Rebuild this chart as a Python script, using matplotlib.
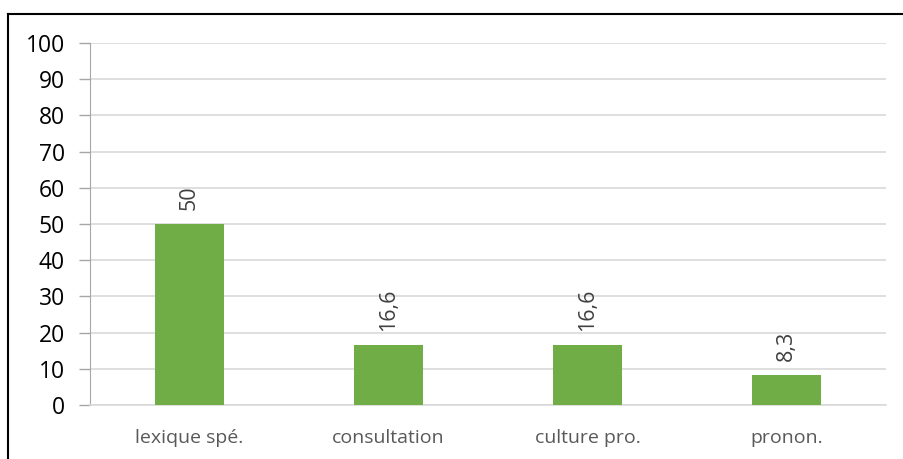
import matplotlib
matplotlib.use("Agg")
import matplotlib.pyplot as plt
from matplotlib.lines import Line2D

categories = ["lexique spé.", "consultation", "culture pro.", "pronon."]
values = [50, 16.6, 16.6, 8.3]
value_labels = ["50", "16,6", "16,6", "8,3"]
yticks = [0, 10, 20, 30, 40, 50, 60, 70, 80, 90, 100]

plt.rcParams['font.family'] = ['Open Sans', 'DejaVu Sans']

fig = plt.figure(figsize=(9.04, 4.59), dpi=100)
ax = fig.add_axes([90/904, 1-405/459, (886-90)/904, (405-43)/459])

x = list(range(len(categories)))
ax.bar(x, values, width=0.35, color="#70AD47", zorder=3)
ax.set_xlim(-0.5, len(categories)-0.5)
ax.set_ylim(0, 100)
ax.set_yticks(yticks)
ax.set_yticklabels([str(t) for t in yticks], fontsize=16.5, color="black")
ax.set_xticks(x)
ax.set_xticklabels(categories, fontsize=14, color="#595959")
ax.tick_params(axis='x', length=0, pad=17)
ax.tick_params(axis='y', length=8, color="#A6A6A6", width=1, pad=10)
ax.grid(axis='y', color="#D9D9D9", linewidth=1.2, zorder=0)
for s in ['top', 'right']:
    ax.spines[s].set_visible(False)
ax.spines['left'].set_color("#A6A6A6")
ax.spines['bottom'].set_color("#D9D9D9")
ax.spines['bottom'].set_linewidth(1.2)

for xi, v, lab in zip(x, values, value_labels):
    ax.annotate(lab, (xi, v), xytext=(0, 10), textcoords="offset points",
                rotation=90, ha="center", va="bottom", fontsize=15.5, color="#404040")

fig.add_artist(Line2D([8/904, 8/904], [0, 1-14/459], color="black", linewidth=1.5, transform=fig.transFigure))
fig.add_artist(Line2D([8/904, 1], [1-14/459, 1-14/459], color="black", linewidth=1.5, transform=fig.transFigure))

fig.savefig("out.png", dpi=100)
